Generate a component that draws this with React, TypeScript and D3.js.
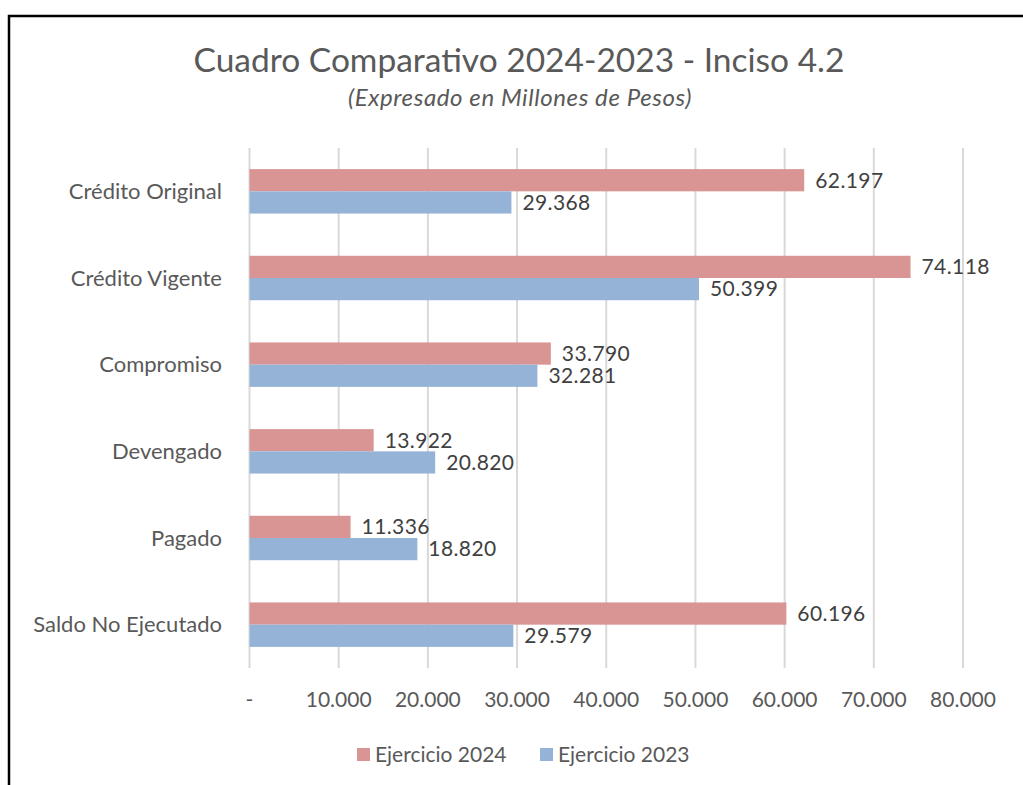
import React, { useEffect, useRef } from 'react';
import * as d3 from 'd3';

const categories = ['Crédito Original', 'Crédito Vigente', 'Compromiso', 'Devengado', 'Pagado', 'Saldo No Ejecutado'];
const values2024 = [62197, 74118, 33790, 13922, 11336, 60196];
const values2023 = [29368, 50399, 32281, 20820, 18820, 29579];
const seriesNames = ['Ejercicio 2024', 'Ejercicio 2023'];
const xTicks = [0, 10000, 20000, 30000, 40000, 50000, 60000, 70000, 80000];

const colors = ['#D99594', '#95B3D7'];
const textColor = '#595959';
const font = 'Lato, "Open Sans", sans-serif';

const fmt = (v: number) => (v === 0 ? '-' : d3.format(',')(v).replace(/,/g, '.'));

const App = () => {
  const ref = useRef<SVGSVGElement>(null);

  useEffect(() => {
    const svg = d3.select(ref.current);
    svg.selectAll('*').remove();

    const width = 1023;
    const height = 785;
    const margin = { top: 148, right: 60, bottom: 117, left: 249.5 };

    svg.attr('width', width).attr('height', height);

    // frame
    svg.append('rect')
      .attr('x', 9).attr('y', 16)
      .attr('width', 1030).attr('height', 800)
      .attr('fill', '#fff')
      .attr('stroke', '#000')
      .attr('stroke-width', 2.5);

    const x = d3.scaleLinear()
      .domain([0, 80000])
      .range([margin.left, 963]);

    const y = d3.scaleBand()
      .domain(categories)
      .range([margin.top, height - margin.bottom]);

    const inner = d3.scaleBand()
      .domain(seriesNames)
      .range([0, y.bandwidth()])
      .paddingOuter(0.95);

    // grid
    svg.append('g')
      .selectAll('line')
      .data(xTicks)
      .enter()
      .append('line')
      .attr('x1', d => x(d))
      .attr('x2', d => x(d))
      .attr('y1', margin.top)
      .attr('y2', height - margin.bottom)
      .attr('stroke', '#d9d9d9')
      .attr('stroke-width', 2);

    // tick labels
    svg.append('g')
      .selectAll('text')
      .data(xTicks)
      .enter()
      .append('text')
      .attr('x', d => x(d))
      .attr('y', 707)
      .attr('text-anchor', 'middle')
      .attr('font-family', font)
      .attr('font-size', '21px')
      .attr('fill', textColor)
      .text(d => fmt(d));

    // category labels
    svg.append('g')
      .selectAll('text')
      .data(categories)
      .enter()
      .append('text')
      .attr('x', 222)
      .attr('y', d => (y(d) as number) + y.bandwidth() / 2)
      .attr('dy', '0.35em')
      .attr('text-anchor', 'end')
      .attr('font-family', font)
      .attr('font-size', '22px')
      .attr('fill', textColor)
      .text(d => d);

    const series = [values2024, values2023];
    series.forEach((vals, si) => {
      const rows = categories.map((c, i) => ({ c, v: vals[i] }));
      const g = svg.append('g');
      g.selectAll('rect')
        .data(rows)
        .enter()
        .append('rect')
        .attr('x', x(0))
        .attr('y', d => (y(d.c) as number) + (inner(seriesNames[si]) as number))
        .attr('width', d => x(d.v) - x(0))
        .attr('height', inner.bandwidth())
        .attr('fill', colors[si]);

      g.selectAll('text')
        .data(rows)
        .enter()
        .append('text')
        .attr('x', d => x(d.v) + 11)
        .attr('y', d => (y(d.c) as number) + (inner(seriesNames[si]) as number) + inner.bandwidth() / 2)
        .attr('dy', '0.35em')
        .attr('font-family', font)
        .attr('font-size', '21px')
        .attr('letter-spacing', '0.4px')
        .attr('fill', '#404040')
        .text(d => fmt(d.v));
    });

    // title
    svg.append('text')
      .attr('x', 519)
      .attr('y', 72)
      .attr('text-anchor', 'middle')
      .attr('font-family', font)
      .attr('font-size', '33.5px')
      .attr('fill', textColor)
      .text('Cuadro Comparativo 2024-2023 - Inciso 4.2');

    svg.append('text')
      .attr('x', 520)
      .attr('y', 106)
      .attr('text-anchor', 'middle')
      .attr('font-family', font)
      .attr('font-size', '24px')
      .attr('letter-spacing', '0.6px')
      .attr('font-style', 'italic')
      .attr('fill', textColor)
      .text('(Expresado en Millones de Pesos)');

    // legend
    const legendX = [357, 540];
    const legend = svg.append('g')
      .selectAll('g')
      .data(seriesNames)
      .enter()
      .append('g')
      .attr('transform', (d, i) => `translate(${legendX[i]}, 755)`);

    legend.append('rect')
      .attr('x', 0).attr('y', -7)
      .attr('width', 13).attr('height', 13)
      .attr('fill', (d, i) => colors[i]);

    legend.append('text')
      .attr('x', 18)
      .attr('dy', '0.35em')
      .attr('font-family', font)
      .attr('font-size', '21px')
      .attr('fill', textColor)
      .text(d => d);
  }, []);

  return <svg ref={ref} style={{ display: 'block', position: 'absolute', left: 0, top: 0 }}></svg>;
};

export default App;
